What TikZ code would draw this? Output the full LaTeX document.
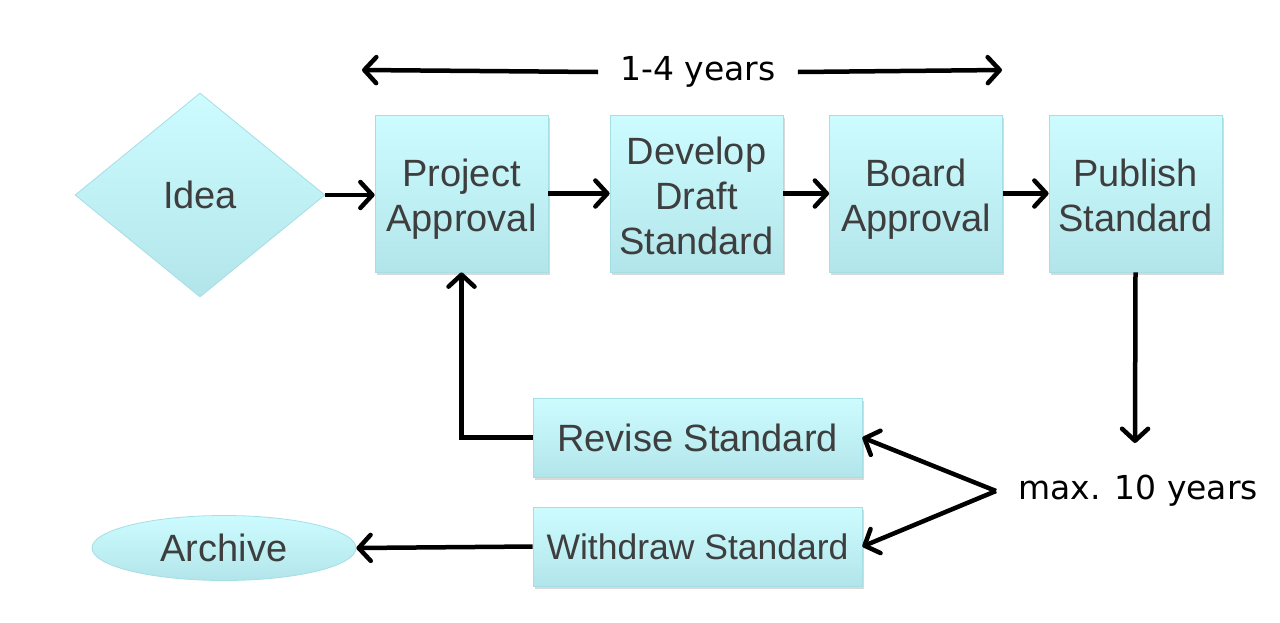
\documentclass[tikz,border=0pt]{standalone}
\usepackage{fontspec}
\setmainfont{Liberation Sans}
\newfontfamily\tahfont{DejaVu Sans}
\usetikzlibrary{shapes.geometric,arrows.meta,shadows,calc}
\definecolor{boxtop}{RGB}{205,252,255}
\definecolor{boxbot}{RGB}{178,229,234}
\definecolor{boxline}{RGB}{165,222,228}
\definecolor{boxtext}{RGB}{62,62,62}
\newcommand\boxtxt[1]{\raisebox{-6.5pt}[\height][\depth]{\begin{tabular}{@{}c@{}}#1\end{tabular}}}
\tikzset{
  base/.style={draw=boxline, line width=0.8pt, top color=boxtop, bottom color=boxbot,
    text=boxtext, font=\fontsize{38}{45}\selectfont, align=center, inner sep=0pt},
  procbox/.style={base, rectangle, drop shadow={shadow xshift=1.5pt, shadow yshift=-3pt, opacity=0.25, fill=black!60}},
  tallbox/.style={procbox, minimum width=173pt, minimum height=157pt},
  widebox/.style={procbox, minimum width=329pt, minimum height=79pt},
  lbl/.style={font=\tahfont\fontsize{33}{40}\selectfont, text=black, inner sep=0pt},
  conn/.style={line width=4.5pt, -{Straight Barb[length=12pt,width=26pt,line cap=round,line join=round]}},
}
\begin{document}
\begin{tikzpicture}[x=1pt,y=-1pt]
\useasboundingbox (0,0) rectangle (1280,622);
% nodes
\node[base, diamond, minimum width=250pt, minimum height=204pt, aspect=1.225] (idea) at (200,195) {Idea};
\node[tallbox] (pa) at (461.5,193.5) {\boxtxt{Project\\Approval}};
\node[tallbox] (dds) at (696.5,193.5) {\boxtxt{Develop\\Draft\\Standard}};
\node[tallbox] (ba) at (916,193.5) {\boxtxt{Board\\Approval}};
\node[tallbox] (ps) at (1135.5,193.5) {\boxtxt{Publish\\Standard}};
\node[widebox] (rs) at (697.5,437.5) {Revise Standard};
\node[widebox, font=\fontsize{35.5}{42}\selectfont] (ws) at (697.5,546.5) {Withdraw Standard};
\node[base, ellipse, minimum width=264pt, minimum height=65pt] (arch) at (224,548) {Archive};
\node[lbl, anchor=west] (maxy) at (1018,491) {max. 10 years};
\node[lbl] (yrs) at (698,72) {1-4 years};
\coordinate (topL) at (362,70);
\coordinate (topR) at (1002,70);
\coordinate (downend) at (1135,443);
\coordinate (fork) at (996,491);
% connectors
\draw[conn] (idea.east) -- (pa.west |- idea.east);
\draw[conn] (pa.east) -- (dds.west);
\draw[conn] (dds.east) -- (ba.west);
\draw[conn] (ba.east) -- (ps.west);
\draw[conn] (ps.south) -- (downend);
\draw[conn] (rs.west) -| (pa.south);
\draw[conn] (ws.west) -- (arch.east);
\draw[conn] (fork) -- (rs.east);
\draw[conn] (fork) -- (ws.east);
\draw[conn] ($(yrs.west)+(-22,0)$) -- (topL);
\draw[conn] ($(yrs.east)+(22,0)$) -- (topR);
\end{tikzpicture}
\end{document}
